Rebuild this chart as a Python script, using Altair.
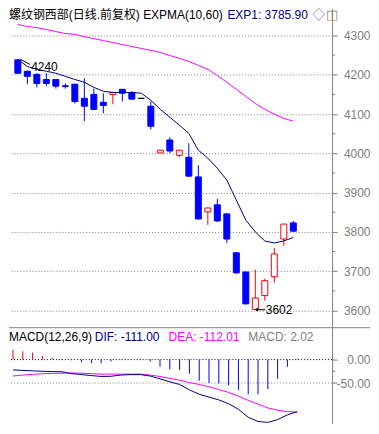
import altair as alt
import pandas as pd
import numpy as np

FONT = "Liberation Sans, Noto Sans CJK SC, sans-serif"
GRAY = "#808080"
NAVY = "#000080"
MAGENTA = "#FF00FF"
RED = "#FF0000"
BLUE = "#0000FF"

W = 324
H1 = 320
H2 = 96

# ---------------- data ----------------
days = list(range(30))
opens = [4238, 4209, 4201, 4188, 4188, 4172, 4176, 4140, 4150, 4130, 4150, 4163, 4155, 4140, 4120,
         4001, 4034, 3995, 3990, 3940, 3851, 3869, 3846, 3747, 3698, 3603, 3638, 3686, 3782, 3823]
highs = [4240, 4210, 4204, 4204, 4189, 4178, 4177, 4191, 4165, 4153, 4156, 4164, 4158, 4140, 4132,
         4008, 4041, 4008, 4026, 3970, 3862, 3884, 3847, 3748, 3699, 3704, 3681, 3759, 3821, 3828]
lows = [4203, 4176, 4168, 4171, 4165, 4165, 4127, 4082, 4110, 4102, 4125, 4132, 4137, 4140, 4061,
        4001, 4001, 3990, 3940, 3832, 3818, 3825, 3772, 3693, 3615, 3602, 3625, 3671, 3765, 3800]
closes = [4204, 4196, 4178, 4178, 4171, 4170, 4132, 4120, 4112, 4122, 4155, 4153, 4138, 4140, 4069,
          4008, 4006, 4008, 3942, 3833, 3861, 3828, 3782, 3696, 3617, 3632, 3676, 3744, 3820, 3802]
exp10 = [4239, 4221, 4214, 4209, 4204, 4196, 4188, 4181, 4168, 4158, 4155, 4155, 4155, 4153, 4135,
         4112, 4092, 4072, 4051, 4008, 3988, 3962, 3932, 3881, 3830, 3800, 3777, 3772, 3777, 3785.9]
exp60 = [4328, 4323, 4320, 4315, 4310, 4305, 4303, 4297, 4292, 4287, 4282, 4277, 4272, 4267, 4262,
         4257, 4249, 4242, 4234, 4224, 4214, 4198, 4181, 4163, 4145, 4127, 4112, 4100, 4089, 4082]
macd_hist = [21, 17.6, 15, 7.6, 3.8, 1.9, -1.3, -5.7, -7.6, -7.6, -3.8, -0.5, 0.3, 1.9, -4,
             -15, -21, -22, -30, -45, -50, -51, -55, -64.6, -74, -74, -62.7, -41, -15.2, 2.02]
dif = [-22, -23, -24, -25, -25.5, -26, -30, -32, -34, -36, -35.5, -33, -32, -32, -35,
       -41, -47.5, -53, -64.6, -74, -80, -86, -94, -106, -123, -132, -134, -128, -118, -111.00]
dea = [-35, -33, -31.5, -30, -29.5, -29, -28.5, -29, -30, -31, -31, -31, -31, -31, -33,
       -36, -40, -44, -49, -53, -58, -64, -70, -78, -87, -95, -103, -108, -111, -112.01]

price_ticks = [3600, 3700, 3800, 3900, 4000, 4100, 4200, 4300]
price_minor = [3650, 3750, 3850, 3950, 4050, 4150, 4250]
macd_ticks = [0, -50]
macd_minor = [-25]

title_main = "螺纹钢西部(日线.前复权) EXPMA(10,60)"
title_exp = f"EXP1: {exp10[-1]:.2f}"
macd_name = "MACD(12,26,9)"
macd_dif = f"DIF: {dif[-1]:.2f}"
macd_dea = f"DEA: {dea[-1]:.2f}"
macd_val = f"MACD: {macd_hist[-1]:.2f}"

df = pd.DataFrame(dict(i=days, open=opens, high=highs, low=lows, close=closes,
                       exp10=exp10, exp60=exp60, hist=macd_hist, dif=dif, dea=dea))
o = np.array(opens); c = np.array(closes)
df["dir"] = np.where(c > o, "up", np.where(c < o, "down", "flat"))
df["hsign"] = np.where(np.array(macd_hist) >= 0, "pos", "neg")

# ---------------- scales ----------------
xs = alt.Scale(domain=[-0.407, 32.56], nice=False, zero=False)
X = alt.X("i:Q", scale=xs, axis=None)
yprice = alt.Scale(domain=[3556.3, 4368.5], nice=False, zero=False)
ymacd = alt.Scale(domain=[-136.2, 68.1], nice=False, zero=False)
stroke_scale = alt.Scale(domain=["up", "down", "flat"], range=[RED, BLUE, "#000000"])
fill_scale = alt.Scale(domain=["up", "down", "flat"], range=["#FFFFFF", BLUE, "#000000"])

axis_common = dict(orient="right", tickSize=5, tickColor=GRAY, domainColor=GRAY,
                   labelColor=GRAY, labelFont=FONT, labelFontSize=12, labelAlign="right",
                   labelPadding=33, labelBaseline="middle", title=None, labelFlush=False)
price_axis = alt.Axis(values=price_ticks, format="d", grid=True, gridColor=GRAY,
                      gridDash=[1, 2], **axis_common)
macd_axis = alt.Axis(values=macd_ticks, grid=False,
                     labelExpr="replace(format(datum.value, '.2f'), '\u2212', '-')", **axis_common)


def YP(field):
    return alt.Y(field, scale=yprice, axis=price_axis)


def YM(field):
    return alt.Y(field, scale=ymacd, axis=macd_axis)


base = alt.Chart(df)

# ---------------- price panel ----------------
wick = base.mark_rule(strokeWidth=1).encode(
    x=X, y=YP("low:Q"), y2="high:Q",
    stroke=alt.Stroke("dir:N", scale=stroke_scale, legend=None))
body = base.mark_bar(size=6, strokeWidth=1).encode(
    x=X, y=YP("open:Q"), y2="close:Q",
    fill=alt.Fill("dir:N", scale=fill_scale, legend=None),
    stroke=alt.Stroke("dir:N", scale=stroke_scale, legend=None))
line10 = base.mark_line(color=NAVY, strokeWidth=1).encode(x=X, y=YP("exp10:Q"))
line60 = base.mark_line(color=MAGENTA, strokeWidth=1, clip=True).encode(x=X, y=YP("exp60:Q"))
pminor = alt.Chart(pd.DataFrame({"m": price_minor})).mark_rule(color=GRAY).encode(
    x=alt.value(W), x2=alt.value(W + 3), y=YP("m:Q"))

hi_i = int(np.argmax(highs))
lo_i = int(np.argmin(lows))
hi_lab = pd.DataFrame({"i": [hi_i + 1.4], "v": [highs[hi_i] - 19], "t": [str(highs[hi_i])]})
hi_arrow = pd.DataFrame({"i": [hi_i + 0.3], "i2": [hi_i + 1.3], "v": [highs[hi_i] - 1], "v2": [highs[hi_i] - 14]})
lo_lab = pd.DataFrame({"i": [lo_i + 1.1], "v": [lows[lo_i]], "t": [str(lows[lo_i])]})
lo_arrow = pd.DataFrame({"i": [lo_i + 0.1], "i2": [lo_i + 1.05], "v": [lows[lo_i]]})
XI = alt.X("i:Q", scale=xs, axis=None)

hi_text = alt.Chart(hi_lab).mark_text(align="left", baseline="middle", font=FONT, fontSize=12,
                                      color="#000000").encode(x=XI, y=YP("v:Q"), text="t:N")
hi_rule = alt.Chart(hi_arrow).mark_rule(color="#000000").encode(
    x=XI, x2="i2:Q", y=YP("v:Q"), y2="v2:Q")
lo_text = alt.Chart(lo_lab).mark_text(align="left", baseline="middle", font=FONT, fontSize=12,
                                      color="#000000").encode(x=XI, y=YP("v:Q"), text="t:N")
lo_rule = alt.Chart(lo_arrow).mark_rule(color="#000000").encode(x=XI, x2="i2:Q", y=YP("v:Q"))
lo_head = alt.Chart(lo_arrow).mark_point(shape="triangle-left", size=14, filled=True,
                                         color="#000000", opacity=1).encode(x=XI, y=YP("v:Q"))


def label(txt, x, y, color, size=12, align="left"):
    return alt.Chart(pd.DataFrame({"t": [txt]})).mark_text(
        align=align, baseline="middle", font=FONT, fontSize=size, color=color).encode(
        text="t:N", x=alt.value(x), y=alt.value(y))


head1 = label(title_main, 0, 6, "#000000")
head2 = label(title_exp, 219, 6, NAVY)
head3 = label("◇", 304, 6, GRAY, 13)
head4 = label("◫", 318, 6, GRAY, 13)

price = alt.layer(wick, body, line60, line10, pminor, hi_rule, hi_text, lo_rule, lo_head, lo_text,
                  head1, head2, head3, head4).properties(width=W, height=H1)

# ---------------- MACD panel ----------------
hbars = base.transform_calculate(zero="0").mark_rule(strokeWidth=1).encode(
    x=X, y=YM("zero:Q"), y2="hist:Q",
    stroke=alt.Stroke("hsign:N", scale=alt.Scale(domain=["pos", "neg"], range=[RED, BLUE]),
                      legend=None))
zero_line = alt.Chart(pd.DataFrame({"v": [0]})).mark_rule(color="#000000", strokeDash=[1, 2]).encode(
    y=YM("v:Q"))
m50_line = alt.Chart(pd.DataFrame({"v": [-50]})).mark_rule(color=GRAY, strokeDash=[1, 2]).encode(
    y=YM("v:Q"))
dif_line = base.mark_line(color=NAVY, strokeWidth=1, clip=True).encode(x=X, y=YM("dif:Q"))
dea_line = base.mark_line(color=MAGENTA, strokeWidth=1, clip=True).encode(x=X, y=YM("dea:Q"))
mminor = alt.Chart(pd.DataFrame({"m": macd_minor})).mark_rule(color=GRAY).encode(
    x=alt.value(W), x2=alt.value(W + 3), y=YM("m:Q"))
sep = alt.Chart(pd.DataFrame({"a": [0]})).mark_rule(color=GRAY).encode(
    x=alt.value(0), x2=alt.value(W + 38), y=alt.value(0))

mh1 = label(macd_name, 0, 9, "#000000")
mh2 = label(macd_dif, 86, 9, NAVY)
mh3 = label(macd_dea, 160, 9, MAGENTA)
mh4 = label(macd_val, 240, 9, GRAY)

macd = alt.layer(zero_line, m50_line, hbars, dea_line, dif_line, mminor, sep,
                 mh1, mh2, mh3, mh4).properties(width=W, height=H2)

chart = alt.vconcat(price, macd, spacing=0, bounds="flush").properties(
    padding=0).configure_view(stroke=None)

chart.save("out.html", embed_options={"renderer": "svg", "actions": False})
